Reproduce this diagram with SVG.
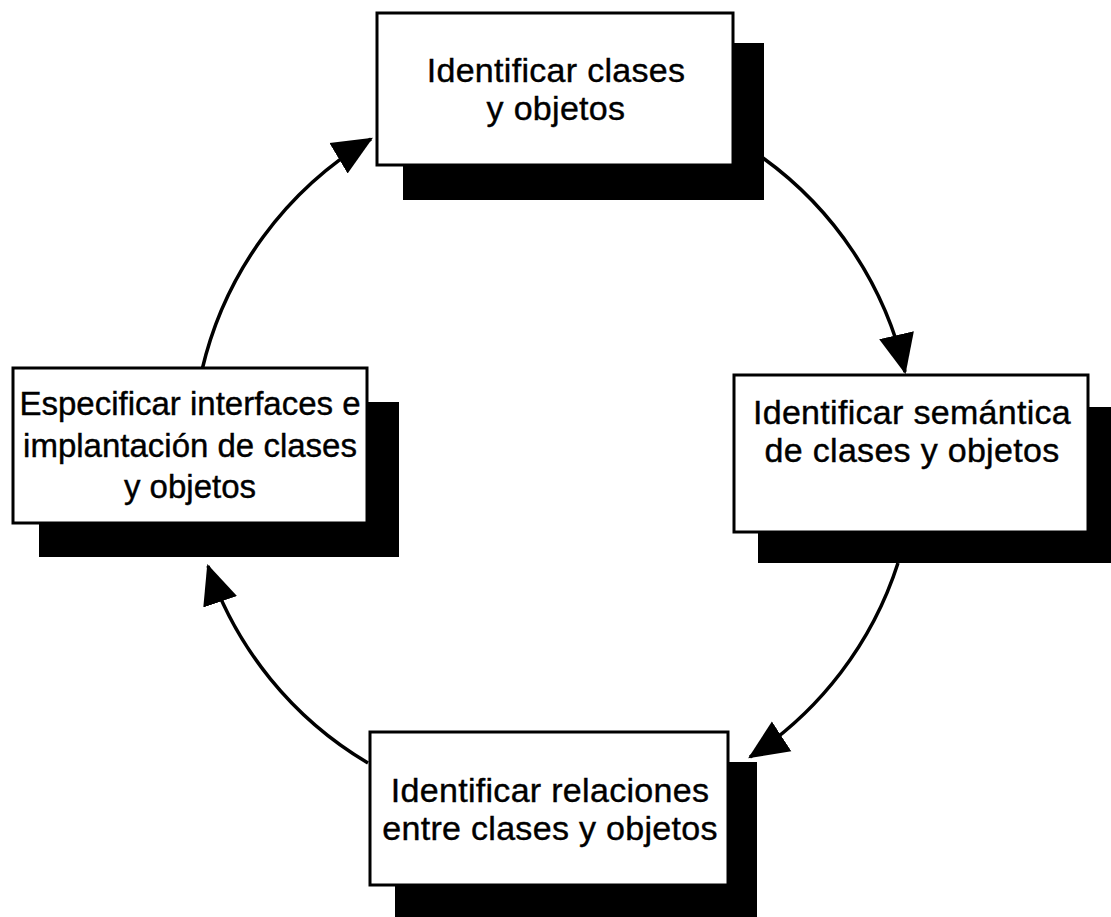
<svg xmlns="http://www.w3.org/2000/svg" width="1111" height="917" viewBox="0 0 1111 917">
<style>
.box{fill:#fff;stroke:#000;stroke-width:3}
.shadow{fill:#000}
.lbl{font-family:"Liberation Sans",Arial,Helvetica,sans-serif;font-size:34px;fill:#000;stroke:#000;stroke-width:0.4;text-anchor:middle;letter-spacing:0.3px}
.sm{font-size:33px;letter-spacing:0}
.conn{fill:none;stroke:#000;stroke-width:3.5}
</style>
<defs>
<marker id="arrow" markerUnits="userSpaceOnUse" markerWidth="40" markerHeight="40" viewBox="0 0 36 32" refX="34" refY="16" orient="auto">
<path d="M0,0 L36,16 L0,32 Z" fill="#000"/>
</marker>
</defs>
<rect width="1111" height="917" fill="#fff"/>
<g id="connectors">
<path class="conn" d="M763,158 A365,365 0 0 1 905,372" marker-end="url(#arrow)"/>
<path class="conn" d="M898,563 A365,365 0 0 1 750,757" marker-end="url(#arrow)"/>
<path class="conn" d="M368,763 A365,365 0 0 1 208,566" marker-end="url(#arrow)"/>
<path class="conn" d="M202,370 A365,365 0 0 1 371,139" marker-end="url(#arrow)"/>
</g>
<g id="node1">
<rect class="shadow" x="403" y="43" width="361" height="157"/>
<rect class="box" x="377" y="13" width="356" height="152"/>
<text class="lbl" x="556" y="82">Identificar clases</text>
<text class="lbl" x="556" y="120">y objetos</text>
</g>
<g id="node2">
<rect class="shadow" x="758" y="407" width="353" height="156"/>
<rect class="box" x="734" y="375" width="354" height="157"/>
<text class="lbl" x="912" y="424">Identificar semántica</text>
<text class="lbl" x="912" y="462">de clases y objetos</text>
</g>
<g id="node3">
<rect class="shadow" x="395" y="762" width="362" height="160"/>
<rect class="box" x="370" y="732" width="358" height="153"/>
<text class="lbl" x="550" y="802">Identificar relaciones</text>
<text class="lbl" x="550" y="840">entre clases y objetos</text>
</g>
<g id="node4">
<rect class="shadow" x="39" y="402" width="360" height="155"/>
<rect class="box" x="13" y="368" width="354" height="155"/>
<text class="lbl sm" x="190" y="415">Especificar interfaces e</text>
<text class="lbl sm" x="190" y="457">implantación de clases</text>
<text class="lbl sm" x="190" y="498">y objetos</text>
</g>
</svg>
